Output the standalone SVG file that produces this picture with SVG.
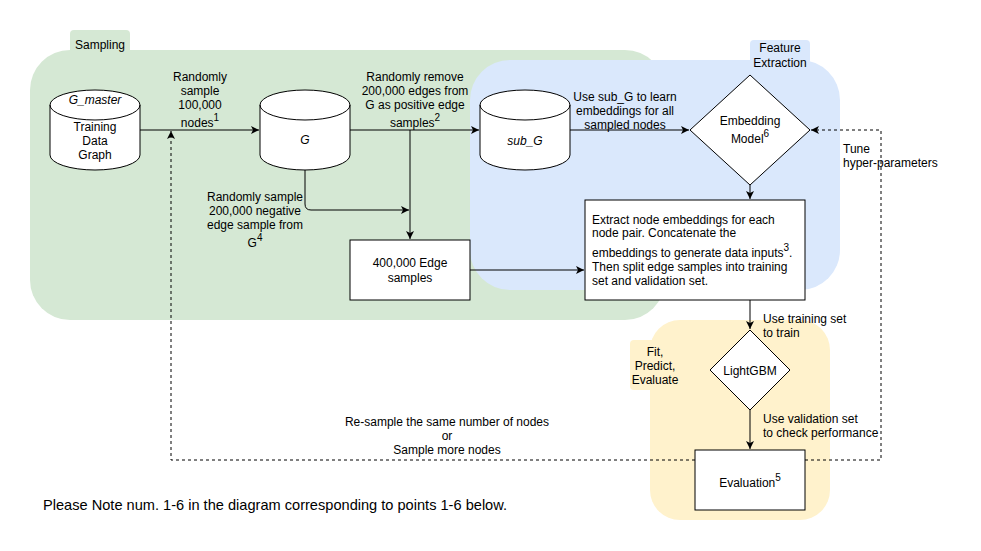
<svg xmlns="http://www.w3.org/2000/svg" width="981" height="551" viewBox="0 0 981 551">
<style>
text{font-family:"Liberation Sans",Arial,sans-serif;font-size:12px;fill:#000}
.c{text-anchor:middle}
.it{font-style:italic}
.shape{fill:#fff;stroke:#000;stroke-width:1}
.ln{fill:none;stroke:#000;stroke-width:1}
.dash{fill:none;stroke:#000;stroke-width:1;stroke-dasharray:3 3}
.sup{font-size:10px}
</style>
<defs>
<marker id="ah" markerWidth="10" markerHeight="10" refX="9" refY="5" orient="auto" markerUnits="userSpaceOnUse">
<path d="M1,1 L9,5 L1,9 L3,5 z" fill="#000"/>
</marker>
</defs>
<rect width="981" height="551" fill="#fff"/>
<g id="group-sampling">
<rect x="70" y="30" width="60" height="40" rx="4" fill="#d5e8d4"/>
<rect x="30" y="50" width="635" height="270" rx="40" fill="#d5e8d4"/>
<text x="100" y="49" class="c">Sampling</text>
</g>
<g id="group-feature">
<rect x="750" y="40" width="60" height="40" rx="4" fill="#dae8fc"/>
<rect x="470" y="60" width="370" height="230" rx="40" fill="#dae8fc"/>
<text x="780" y="52" class="c">Feature</text>
<text x="780" y="67" class="c">Extraction</text>
</g>
<g id="group-fit">
<rect x="630" y="340" width="40" height="50" rx="4" fill="#fff2cc"/>
<rect x="650" y="320" width="180" height="200" rx="30" fill="#fff2cc"/>
<text x="655" y="356" class="c">Fit,</text>
<text x="655" y="370" class="c">Predict,</text>
<text x="655" y="384" class="c">Evaluate</text>
</g>
<g id="connectors">
<path class="ln" d="M140,130 H259" marker-end="url(#ah)"/>
<path class="ln" d="M350,130 H479" marker-end="url(#ah)"/>
<path class="ln" d="M410,130 V239" marker-end="url(#ah)"/>
<path class="ln" d="M305,170 V204 Q305,210 311,210 H409" marker-end="url(#ah)"/>
<path class="ln" d="M470,270 H584" marker-end="url(#ah)"/>
<path class="ln" d="M570,130 H689" marker-end="url(#ah)"/>
<path class="ln" d="M750,185 V199" marker-end="url(#ah)"/>
<path class="ln" d="M750,300 V329" marker-end="url(#ah)"/>
<path class="ln" d="M750,410 V449" marker-end="url(#ah)"/>
<path class="dash" d="M805,460 H881 V130 H811" marker-end="url(#ah)"/>
<path class="dash" d="M695,460 H171 V131" marker-end="url(#ah)"/>
<text x="200" y="81" class="c">Randomly</text>
<text x="200" y="95" class="c">sample</text>
<text x="200" y="109" class="c">100,000</text>
<text x="200" y="127" class="c">nodes<tspan class="sup" dy="-6">1</tspan></text>
<text x="415" y="81" class="c">Randomly remove</text>
<text x="415" y="95" class="c">200,000 edges from</text>
<text x="415" y="109" class="c">G as positive edge</text>
<text x="415" y="127" class="c">samples<tspan class="sup" dy="-6">2</tspan></text>
<text x="255" y="201" class="c">Randomly sample</text>
<text x="255" y="215" class="c">200,000 negative</text>
<text x="255" y="229" class="c">edge sample from</text>
<text x="255" y="247" class="c">G<tspan class="sup" dy="-6">4</tspan></text>
<text x="625" y="101" class="c">Use sub_G to learn</text>
<text x="625" y="115" class="c">embeddings for all</text>
<text x="625" y="129" class="c">sampled nodes</text>
<text x="843" y="153">Tune</text>
<text x="843" y="167">hyper-parameters</text>
<text x="763" y="323">Use training set</text>
<text x="763" y="337">to train</text>
<text x="763" y="423">Use validation set</text>
<text x="763" y="437">to check performance</text>
<text x="447" y="426" class="c">Re-sample the same number of nodes</text>
<text x="447" y="440" class="c">or</text>
<text x="447" y="454" class="c">Sample more nodes</text>
</g>
<g id="node-gmaster">
<path class="shape" d="M50,105 A45,15 0 0 1 140,105 V155 A45,15 0 0 1 50,155 Z"/>
<path class="ln" d="M50,105 A45,15 0 0 0 140,105"/>
<text x="95" y="104" class="c it">G_master</text>
<text x="95" y="131" class="c">Training</text>
<text x="95" y="145" class="c">Data</text>
<text x="95" y="159" class="c">Graph</text>
</g>
<g id="node-g">
<path class="shape" d="M260,105 A45,15 0 0 1 350,105 V155 A45,15 0 0 1 260,155 Z"/>
<path class="ln" d="M260,105 A45,15 0 0 0 350,105"/>
<text x="305" y="144" class="c it">G</text>
</g>
<g id="node-subg">
<path class="shape" d="M480,105 A45,15 0 0 1 570,105 V155 A45,15 0 0 1 480,155 Z"/>
<path class="ln" d="M480,105 A45,15 0 0 0 570,105"/>
<text x="525" y="145" class="c it">sub_G</text>
</g>
<g id="node-edges">
<rect class="shape" x="350" y="240" width="120" height="60"/>
<text x="410" y="267" class="c">400,000 Edge</text>
<text x="410" y="282" class="c">samples</text>
</g>
<g id="node-embedding">
<path class="shape" d="M750,75 L810,130 L750,185 L690,130 Z"/>
<text x="750" y="125" class="c">Embedding</text>
<text x="750" y="143" class="c">Model<tspan class="sup" dy="-6">6</tspan></text>
</g>
<g id="node-extract">
<rect class="shape" x="585" y="200" width="220" height="100"/>
<text x="592" y="224">Extract node embeddings for each</text>
<text x="592" y="237">node pair. Concatenate the</text>
<text x="592" y="257">embeddings to generate data inputs<tspan class="sup" dy="-6">3</tspan><tspan dy="6">.</tspan></text>
<text x="592" y="271">Then split edge samples into training</text>
<text x="592" y="285">set and validation set.</text>
</g>
<g id="node-lightgbm">
<path class="shape" d="M750,330 L790,370 L750,410 L710,370 Z"/>
<text x="750" y="375" class="c">LightGBM</text>
</g>
<g id="node-evaluation">
<rect class="shape" x="695" y="450" width="110" height="60"/>
<text x="750" y="487" class="c">Evaluation<tspan class="sup" dy="-6">5</tspan></text>
</g>
<text x="43" y="510" style="font-size:14.6px">Please Note num. 1-6 in the diagram corresponding to points 1-6 below.</text>
</svg>
